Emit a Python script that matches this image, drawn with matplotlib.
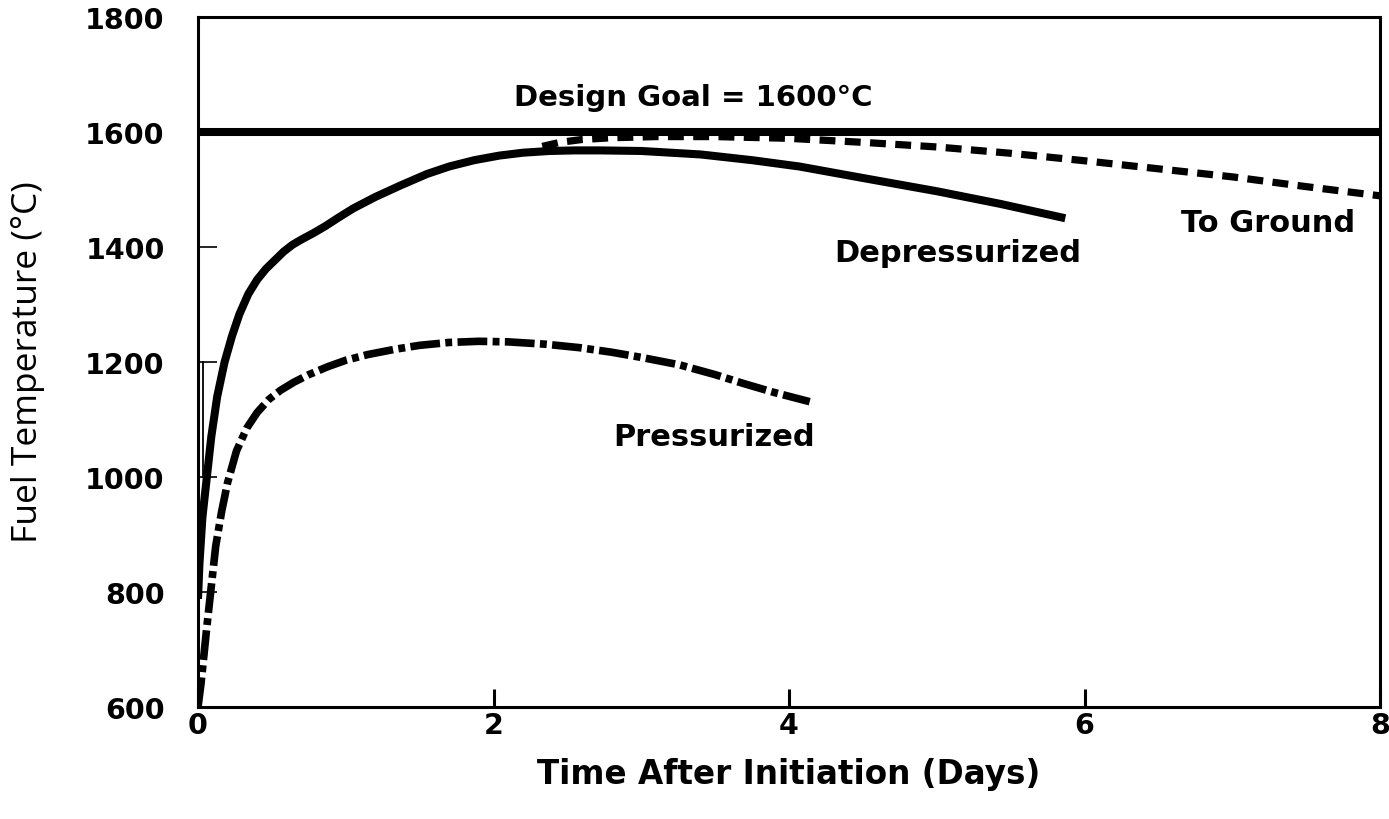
import matplotlib
matplotlib.use("Agg")
import matplotlib.pyplot as plt

# Data
depress_days = [0.00, 0.01, 0.03, 0.06, 0.09, 0.13, 0.18, 0.23, 0.28, 0.34, 0.40, 0.46, 0.52, 0.58,
                0.64, 0.70, 0.78, 0.86, 0.95, 1.05, 1.20, 1.37, 1.55, 1.70, 1.87, 2.04, 2.20, 2.38,
                2.55, 2.72, 3.00, 3.40, 3.75, 4.07, 4.50, 5.00, 5.43, 5.87]
depress_temp = [788, 850, 930, 1000, 1070, 1140, 1200, 1245, 1283, 1318, 1343, 1362, 1377, 1392,
                1404, 1413, 1424, 1436, 1451, 1467, 1487, 1507, 1527, 1540, 1551, 1559, 1564, 1567,
                1568, 1568, 1567, 1561, 1551, 1540, 1520, 1497, 1475, 1450]

ground_days = [2.33, 2.45, 2.60, 2.80, 3.10, 3.50, 4.00, 4.50, 5.00, 5.50, 6.00, 6.50, 7.00, 7.50, 8.00]
ground_temp = [1575, 1582, 1587, 1590, 1592, 1592, 1589, 1582, 1574, 1563, 1550, 1536, 1522, 1505, 1489]

press_days = [0.00, 0.02, 0.04, 0.06, 0.09, 0.12, 0.16, 0.20, 0.26, 0.33, 0.40, 0.48, 0.56, 0.65,
              0.75, 0.88, 1.00, 1.15, 1.33, 1.50, 1.70, 1.90, 2.10, 2.35, 2.58, 2.80, 3.00, 3.26,
              3.50, 3.70, 3.90, 4.14]
press_temp = [600, 640, 690, 740, 810, 880, 940, 990, 1045, 1085, 1112, 1135, 1151, 1165,
              1178, 1192, 1203, 1213, 1222, 1229, 1234, 1236, 1235, 1231, 1225, 1217, 1208, 1195,
              1178, 1162, 1147, 1131]

design_goal = 1600
x_ticks = [0, 2, 4, 6, 8]
y_ticks = [600, 800, 1000, 1200, 1400, 1600, 1800]

fig = plt.figure(figsize=(13.89, 8.20), dpi=100)
ax = fig.add_axes([198/1389, 1-708/820, (1380-198)/1389, (708-18)/820])
ax.set_xlim(0, 8)
ax.set_ylim(600, 1800)

ax.axhline(design_goal, color='black', lw=5.8, solid_capstyle='butt')
ax.plot(depress_days, depress_temp, color='black', lw=5.8, solid_capstyle='butt', solid_joinstyle='round')
ax.plot(ground_days, ground_temp, color='black', lw=5.2, linestyle=(0, (2.2, 1.3)), dash_capstyle='butt')
ax.plot(press_days, press_temp, color='black', lw=5.5, linestyle=(0, (3.9, 0.7, 0.9, 0.7)), dash_capstyle='butt')
# thin vertical stroke near the axis
ax.plot([0.035, 0.035], [1200, 1000], color='black', lw=1.3)

for s in ax.spines.values():
    s.set_linewidth(2.2)

ax.set_xticks(x_ticks)
ax.set_yticks(y_ticks)
ax.set_xticklabels([str(v) for v in x_ticks], fontsize=20.5, fontweight='bold')
ax.set_yticklabels([str(v) for v in y_ticks], fontsize=20.5, fontweight='bold')
ax.tick_params(axis='x', direction='in', length=13, width=2.2, pad=3)
ax.tick_params(axis='y', direction='in', length=14, width=1.2, pad=24)

ax.set_xlabel('Time After Initiation (Days)', fontsize=23.5, fontweight='bold')
ax.xaxis.set_label_coords(0.5, (708-775)/690)
ax.xaxis.label.set_verticalalignment('center')
ax.set_ylabel('Fuel Temperature (°C)', fontsize=25.5, family=['Open Sans', 'DejaVu Sans'])
ax.yaxis.set_label_coords((28-198)/1182, (708-362)/690)
ax.yaxis.label.set_verticalalignment('center')

ax.text(3.35, 1661, 'Design Goal = 1600°C', fontsize=21, fontweight='bold', ha='center', va='center')
ax.text(5.14, 1391, 'Depressurized', fontsize=22, fontweight='bold', ha='center', va='center')
ax.text(7.24, 1442, 'To Ground', fontsize=22, fontweight='bold', ha='center', va='center')
ax.text(3.49, 1071, 'Pressurized', fontsize=22, fontweight='bold', ha='center', va='center')

fig.savefig('out.png', dpi=100)
